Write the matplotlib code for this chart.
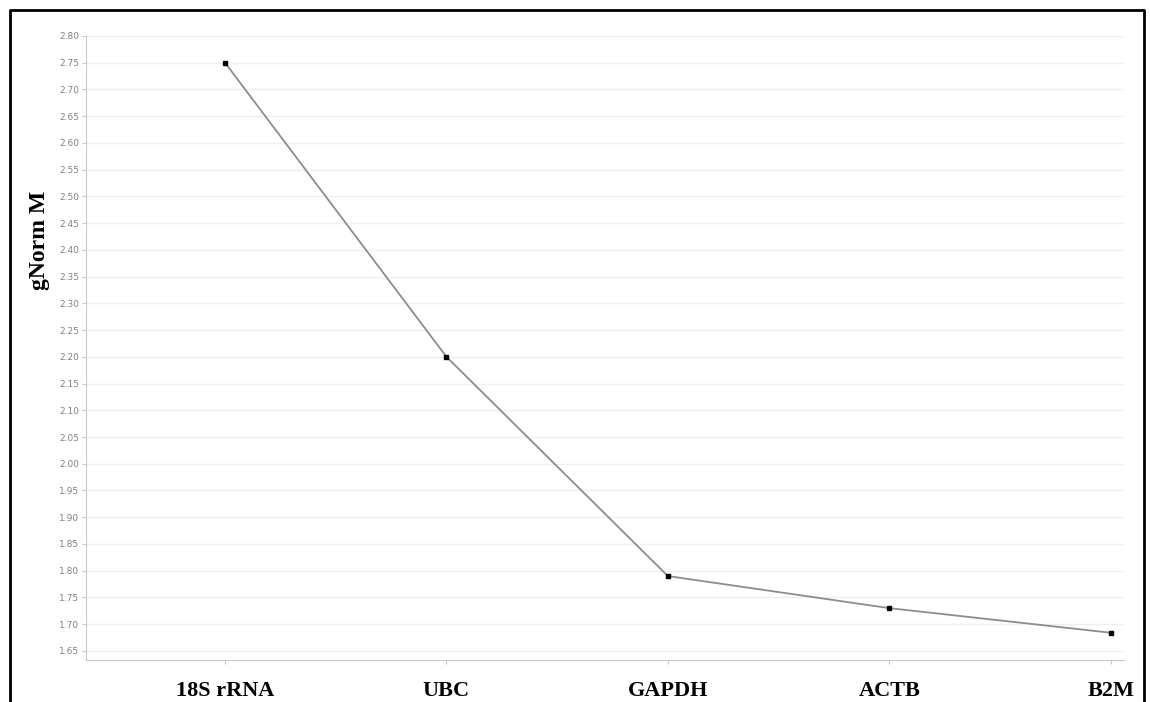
import numpy as np
import matplotlib
matplotlib.use("Agg")
from matplotlib import pyplot as plt
from matplotlib.lines import Line2D

# data
genes = ["18S rRNA", "UBC", "GAPDH", "ACTB", "B2M"]
gnorm_m = [2.75, 2.20, 1.79, 1.73, 1.684]
yticks = np.round(np.arange(1.65, 2.801, 0.05), 2)

fig = plt.figure(figsize=(11.5, 7.02), dpi=100)
ax = fig.add_axes([86 / 1150, 1 - 660 / 702, (1124 - 86) / 1150, (660 - 36) / 702])

x = np.arange(len(genes))
ax.plot(x, gnorm_m, color="#8c8c8c", lw=1.3, marker="s", ms=3.5,
        mfc="black", mec="black", zorder=3)

ax.set_xlim(-0.628, 4.06)
ax.set_ylim(1.633, 2.80)
ax.set_yticks(yticks)
ax.set_yticklabels(["%.2f" % v for v in yticks], fontsize=6.5, color="#808080")
ax.set_xticks(x)
ax.set_xticklabels(genes, fontsize=16, fontweight="bold", family="Liberation Serif")
ax.tick_params(axis="x", length=3, color="#c8c8c8", pad=12)
ax.tick_params(axis="y", length=3, color="#c8c8c8", pad=2)
ax.yaxis.grid(True, color="#efefef", lw=1)
ax.set_axisbelow(True)
for s in ["top", "right"]:
    ax.spines[s].set_visible(False)
for s in ["left", "bottom"]:
    ax.spines[s].set_color("#c8c8c8")

fig.text(40 / 1150, 1 - 240 / 702, "gNorm M", rotation=90, fontsize=17,
         fontweight="bold", family="Liberation Serif", ha="center", va="center")

# outer frame of the pasted image
fig.add_artist(Line2D([10 / 1150, 10 / 1150, 1144 / 1150, 1144 / 1150],
                      [0, 1 - 10 / 702, 1 - 10 / 702, 0],
                      transform=fig.transFigure, color="black", lw=2))

fig.savefig("out.png", dpi=100)
